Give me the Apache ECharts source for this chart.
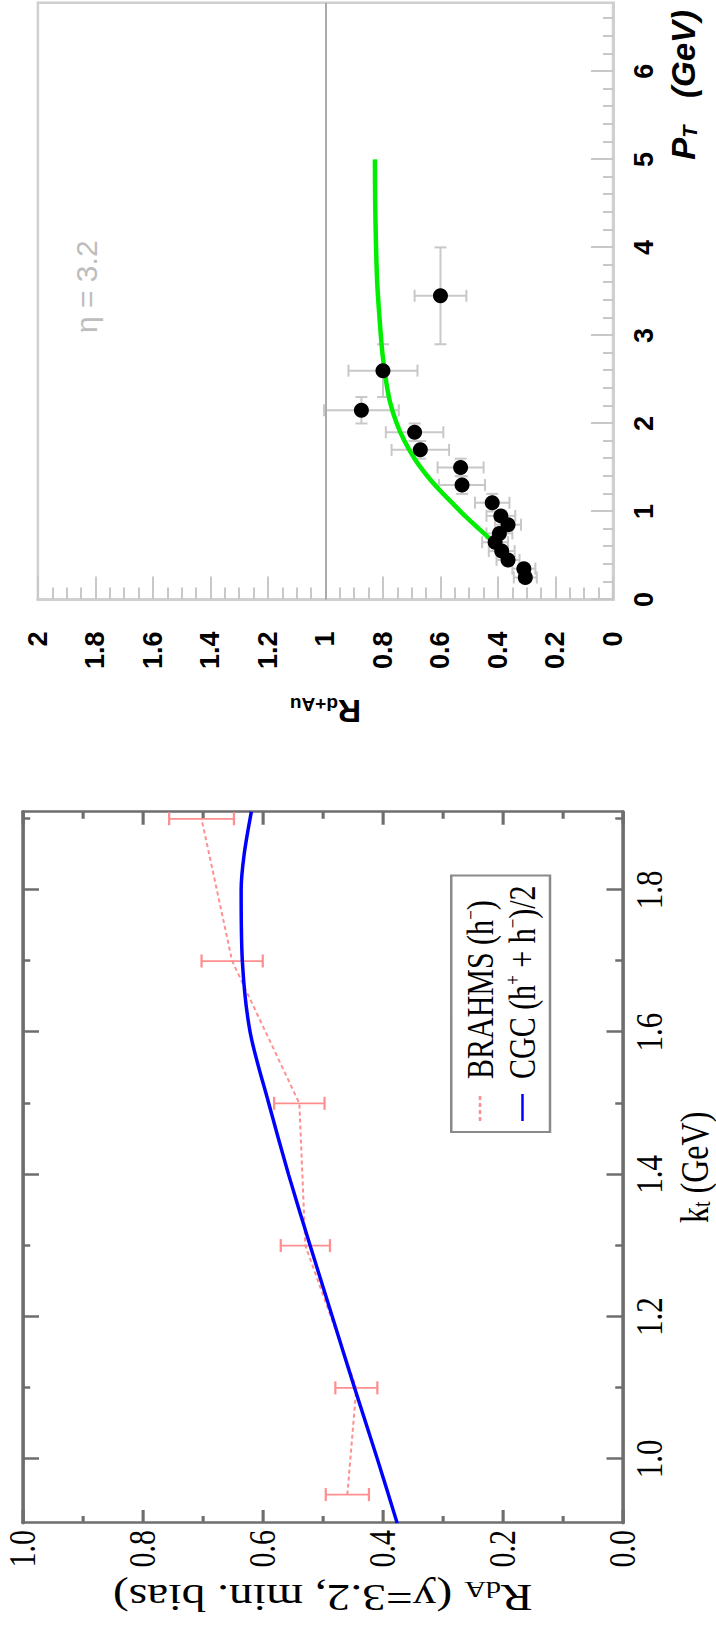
<!DOCTYPE html>
<html><head><meta charset="utf-8">
<script src="https://cdn.jsdelivr.net/npm/echarts@6/dist/echarts.min.js"></script>
<style>
html,body{margin:0;padding:0;background:#fff;width:716px;height:1635px;overflow:hidden;position:relative;}
#panelA{position:absolute;left:0;top:0;width:790px;height:716px;transform-origin:0 0;transform:translate(0px,790px) rotate(-90deg);}
#panelB{position:absolute;left:0;top:0;width:860px;height:573px;transform-origin:0 0;transform:translate(0px,1635px) rotate(-90deg) scale(1,1.25);}
</style></head>
<body><div id="panelA"></div><div id="panelB"></div>
<script>
// ---------- Panel A : BRAHMS R_d+Au vs pT (eta = 3.2) ----------
const brahmsPt    = [0.25, 0.35, 0.45, 0.55, 0.65, 0.75, 0.85, 0.95, 1.1, 1.3, 1.5, 1.7, 1.9, 2.15, 2.6, 3.45];
const brahmsR     = [0.305, 0.31, 0.365, 0.387, 0.41, 0.395, 0.365, 0.39, 0.42, 0.525, 0.53, 0.67, 0.69, 0.875, 0.80, 0.60];
const brahmsPtErr = [0.05, 0.05, 0.05, 0.05, 0.05, 0.05, 0.05, 0.05, 0.1, 0.1, 0.1, 0.1, 0.1, 0.15, 0.3, 0.55];
const brahmsRErr  = [0.04, 0.04, 0.04, 0.045, 0.045, 0.045, 0.045, 0.05, 0.06, 0.08, 0.08, 0.10, 0.10, 0.13, 0.12, 0.09];
const greenPt = [0.68, 0.8, 0.95, 1.1, 1.25, 1.4, 1.6, 1.8, 2.0, 2.25, 2.5, 2.8, 3.2, 3.6, 4.0, 4.5, 5.0];
const greenR  = [0.425, 0.465, 0.515, 0.56, 0.605, 0.645, 0.69, 0.725, 0.752, 0.776, 0.79, 0.802, 0.812, 0.82, 0.824, 0.827, 0.828];
const ptTicks = [0, 1, 2, 3, 4, 5, 6];
const ptMinorTicks = [0.2,0.4,0.6,0.8,1.2,1.4,1.6,1.8,2.2,2.4,2.6,2.8,3.2,3.4,3.6,3.8,4.2,4.4,4.6,4.8,5.2,5.4,5.6,5.8,6.2,6.4,6.6];

// ---------- Panel B : R_dA vs k_t ----------
const kData    = [0.95, 1.1, 1.3, 1.5, 1.7, 1.9];
const kR       = [0.459, 0.444, 0.529, 0.539, 0.651, 0.702];
const kRErr    = [0.036, 0.035, 0.041, 0.042, 0.051, 0.054];
const cgcK = [0.91, 1.0, 1.1, 1.2, 1.3, 1.4, 1.5, 1.6, 1.7, 1.8, 1.85, 1.91];
const cgcR = [0.376, 0.409, 0.447, 0.484, 0.521, 0.557, 0.59, 0.621, 0.634, 0.636, 0.631, 0.619];
const kMajorTicks = [1.0, 1.2, 1.4, 1.6, 1.8];
const kMinorTicks = [1.1, 1.3, 1.5, 1.7, 1.9];

// ======== Panel A chart ========
const chartA = echarts.init(document.getElementById('panelA'), null, {renderer: 'svg'});
const sans = 'Liberation Sans, Arial, sans-serif';
const gA = '#c8c8c8';
function errA(params, api) {
  const x = api.value(0), y = api.value(1), ex = api.value(2), ey = api.value(3);
  const l = api.coord([x - ex, y]), r = api.coord([x + ex, y]);
  const b = api.coord([x, y - ey]), t = api.coord([x, y + ey]);
  const c = 6, st = {stroke: gA, lineWidth: 2};
  return {type: 'group', children: [
    {type: 'line', shape: {x1: l[0], y1: l[1], x2: r[0], y2: r[1]}, style: st},
    {type: 'line', shape: {x1: l[0], y1: l[1] - c, x2: l[0], y2: l[1] + c}, style: st},
    {type: 'line', shape: {x1: r[0], y1: r[1] - c, x2: r[0], y2: r[1] + c}, style: st},
    {type: 'line', shape: {x1: b[0], y1: b[1], x2: t[0], y2: t[1]}, style: st},
    {type: 'line', shape: {x1: b[0] - c, y1: b[1], x2: b[0] + c, y2: b[1]}, style: st},
    {type: 'line', shape: {x1: t[0] - c, y1: t[1], x2: t[0] + c, y2: t[1]}, style: st}
  ]};
}
const titleRich = {
  p: {fontSize: 33, fontFamily: sans, fontWeight: 'bold', fontStyle: 'italic', lineHeight: 33, color: '#000'},
  t: {fontSize: 20, fontFamily: sans, fontWeight: 'bold', fontStyle: 'italic', lineHeight: 8, verticalAlign: 'bottom', color: '#000'},
  g: {fontSize: 33, fontFamily: sans, fontWeight: 'bold', fontStyle: 'italic', lineHeight: 33, color: '#000'}
};
chartA.setOption({
  animation: false,
  backgroundColor: 'transparent',
  title: [
    {text: '{p|P}{t|T}{g|   (GeV)}', right: 10, top: 667, padding: 0,
     textStyle: {fontSize: 33, fontFamily: sans, fontWeight: 'bold', fontStyle: 'italic', color: '#000', rich: titleRich}},
    {text: 'η = 3.2', left: 457, top: 71, padding: 0,
     textStyle: {fontSize: 30, fontFamily: sans, fontWeight: 'normal', color: '#bdbdbd'}}
  ],
  grid: {left: 190.5, top: 37.9, width: 596.8, height: 575.1, show: true, borderColor: '#d0d0d0', borderWidth: 2.5,
         containLabel: false, outerBoundsMode: 'none'},
  xAxis: [
    {type: 'value', min: 0, max: 6.78, position: 'bottom',
     axisLine: {show: true, onZero: false, lineStyle: {color: '#d0d0d0', width: 3}},
     axisTick: {show: true, inside: true, length: 22, customValues: ptTicks, lineStyle: {color: gA, width: 2}},
     axisLabel: {show: true, customValues: ptTicks, margin: 17, fontSize: 27, fontWeight: 'bold', fontFamily: sans, color: '#000'},
     splitLine: {show: false}},
    {type: 'value', min: 0, max: 6.78, position: 'bottom',
     axisLine: {show: false, onZero: false},
     axisTick: {show: true, inside: true, length: 10, customValues: ptMinorTicks, lineStyle: {color: gA, width: 2}},
     axisLabel: {show: false}, splitLine: {show: false}}
  ],
  yAxis: [
    {type: 'value', min: 0, max: 2, interval: 0.2, position: 'left',
     name: '{r|R}{s|d+Au}', nameLocation: 'middle', nameRotate: 90, nameGap: 95,
     nameTextStyle: {rich: {
       r: {fontSize: 32, fontWeight: 'bold', fontFamily: sans, lineHeight: 32, color: '#000'},
       s: {fontSize: 19, fontWeight: 'bold', fontFamily: sans, lineHeight: 8, verticalAlign: 'bottom', color: '#000'}}},
     axisLine: {show: true, onZero: false, lineStyle: {color: '#d0d0d0', width: 3}},
     axisTick: {show: true, inside: true, length: 23, lineStyle: {color: gA, width: 2}},
     minorTick: {show: true, splitNumber: 4, length: 12, lineStyle: {color: gA, width: 2}},
     axisLabel: {margin: 32, fontSize: 27, fontWeight: 'bold', fontFamily: sans, color: '#000'},
     splitLine: {show: false}, minorSplitLine: {show: false}}
  ],
  series: [
    {type: 'custom', name: 'errA', xAxisIndex: 0, yAxisIndex: 0, renderItem: errA, z: 2,
     data: brahmsPt.map((p, i) => [p, brahmsR[i], brahmsPtErr[i], brahmsRErr[i]])},
    {type: 'line', name: 'unity', xAxisIndex: 0, yAxisIndex: 0, data: [], z: 1,
     markLine: {silent: true, symbol: 'none', label: {show: false},
       lineStyle: {color: '#ababab', width: 2, type: 'solid'}, data: [{yAxis: 1}]}},
    {type: 'line', name: 'CGC', xAxisIndex: 0, yAxisIndex: 0, smooth: 0.3, symbol: 'none', z: 3,
     lineStyle: {color: '#00ee00', width: 4.5},
     data: greenPt.map((p, i) => [p, greenR[i]])},
    {type: 'scatter', name: 'BRAHMS', xAxisIndex: 0, yAxisIndex: 0, symbol: 'circle', symbolSize: 15, z: 4,
     itemStyle: {color: '#000', opacity: 1},
     data: brahmsPt.map((p, i) => [p, brahmsR[i]])}
  ]
});

// ======== Panel B chart ========
const chartB = echarts.init(document.getElementById('panelB'), null, {renderer: 'svg'});
const serif = 'Liberation Serif, Times New Roman, serif';
const axC = '#6e6e6e';
const red = '#ff8f8f';
function errB(params, api) {
  const x = api.value(0), y = api.value(1), e = api.value(2);
  const lo = api.coord([x, y - e]), hi = api.coord([x, y + e]);
  const c = 6.5, st = {stroke: red, lineWidth: 1.8};
  return {type: 'group', children: [
    {type: 'line', shape: {x1: lo[0], y1: lo[1], x2: hi[0], y2: hi[1]}, style: st},
    {type: 'line', shape: {x1: lo[0] - c, y1: lo[1], x2: lo[0] + c, y2: lo[1]}, style: st},
    {type: 'line', shape: {x1: hi[0] - c, y1: hi[1], x2: hi[0] + c, y2: hi[1]}, style: st}
  ]};
}
function kAxis(pos, vals, len, labels) {
  return {type: 'value', min: 0.91, max: 1.91, position: pos,
    axisLine: {show: true, onZero: false, lineStyle: {color: axC, width: 2.5}},
    axisTick: {show: true, inside: true, length: len, customValues: vals, lineStyle: {color: axC, width: 2.5}},
    axisLabel: labels ? {show: true, customValues: vals, margin: 6, fontSize: 31, fontFamily: serif, color: '#000',
                         formatter: v => Number(v).toFixed(1)} : {show: false},
    splitLine: {show: false}};
}
function rAxis(pos, labels) {
  return {type: 'value', min: 0, max: 1, interval: 0.2, position: pos,
    axisLine: {show: true, onZero: false, lineStyle: {color: axC, width: 2.5}},
    axisTick: {show: true, inside: true, length: 13, lineStyle: {color: axC, width: 2.5}},
    minorTick: {show: true, splitNumber: 2, length: 7, lineStyle: {color: axC, width: 2.5}},
    axisLabel: labels ? {show: true, margin: 7, fontSize: 30, fontFamily: serif, color: '#000',
                         formatter: v => Number(v).toFixed(1)} : {show: false},
    splitLine: {show: false}, minorSplitLine: {show: false}};
}
const xB0 = kAxis('bottom', kMajorTicks, 13, true);
xB0.name = '{k|k}{t|t}{k| (GeV)}';
xB0.nameLocation = 'middle';
xB0.nameGap = 30;
xB0.nameTextStyle = {rich: {
  k: {fontSize: 32, fontFamily: serif, lineHeight: 30, color: '#000'},
  t: {fontSize: 20, fontFamily: serif, lineHeight: 8, verticalAlign: 'bottom', color: '#000'}}};
const yB0 = rAxis('left', true);
yB0.name = '{r|R}{s|dA}{r| (y=3.2, min. bias)}';
yB0.nameLocation = 'middle';
yB0.nameRotate = 90;
yB0.nameGap = 50;
yB0.nameTextStyle = {rich: {
  r: {fontSize: 38, fontFamily: serif, lineHeight: 38, color: '#000'},
  s: {fontSize: 24, fontFamily: serif, lineHeight: 10, verticalAlign: 'bottom', color: '#000'}}};

const legRich = {
  a: {fontSize: 30, fontFamily: serif, lineHeight: 32, color: '#000'},
  s: {fontSize: 17, fontFamily: serif, lineHeight: 32, verticalAlign: 'top', color: '#000'}
};
chartB.setOption({
  animation: false,
  backgroundColor: 'transparent',
  grid: {left: 112, top: 18.2, width: 711.3, height: 480, containLabel: false, outerBoundsMode: 'none'},
  legend: {
    show: true, orient: 'vertical', left: 503, top: 361,
    padding: [7, 10, 7, 10], itemGap: 3, itemWidth: 27, itemHeight: 14,
    borderColor: '#8a8a8a', borderWidth: 2, backgroundColor: '#fff',
    itemStyle: {opacity: 0},
    data: ['BRAHMS', 'CGC'],
    formatter: n => n === 'BRAHMS' ? '{a|BRAHMS (h}{s|−}{a|)}' : '{a|CGC (h}{s|+}{a| + h}{s|−}{a|)/2}',
    textStyle: {padding: [0, 0, 0, 10], rich: legRich}
  },
  xAxis: [
    xB0,
    kAxis('bottom', kMinorTicks, 6, false),
    kAxis('top', kMajorTicks, 13, false),
    kAxis('top', kMinorTicks, 6, false)
  ],
  yAxis: [yB0, rAxis('right', false)],
  series: [
    {type: 'custom', name: 'errB', xAxisIndex: 0, yAxisIndex: 0, renderItem: errB, z: 2,
     data: kData.map((k, i) => [k, kR[i], kRErr[i]])},
    {type: 'line', name: 'BRAHMS', xAxisIndex: 0, yAxisIndex: 0, symbol: 'none', z: 3,
     lineStyle: {color: red, width: 1.6, type: [4, 3]}, itemStyle: {color: red},
     data: kData.map((k, i) => [k, kR[i]])},
    {type: 'line', name: 'CGC', xAxisIndex: 0, yAxisIndex: 0, symbol: 'none', smooth: 0.3, z: 4,
     lineStyle: {color: '#0000ff', width: 2.8}, itemStyle: {color: '#0000ff'},
     data: cgcK.map((k, i) => [k, cgcR[i]])}
  ]
});
</script>
</body></html>
